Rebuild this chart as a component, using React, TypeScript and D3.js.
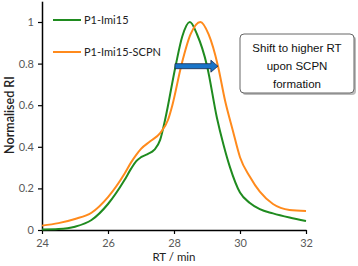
import React, { useEffect, useRef } from "react";
import * as d3 from "d3";

// P1-Imi15 trace
const rtGreen = [24, 24.5, 25, 25.5, 26, 26.5, 26.7, 26.85, 27, 27.2, 27.4, 27.58, 27.73, 28.05, 28.25, 28.48, 28.7, 29.0, 29.3, 29.5, 29.7, 30, 30.3, 30.6, 31, 31.5, 32];
const riGreen = [0.003, 0.005, 0.016, 0.048, 0.125, 0.24, 0.295, 0.33, 0.35, 0.365, 0.385, 0.433, 0.53, 0.79, 0.93, 1.0, 0.94, 0.79, 0.54, 0.41, 0.3, 0.18, 0.13, 0.1, 0.08, 0.06, 0.043];

// P1-Imi15-SCPN trace
const rtOrange = [24, 24.5, 25, 25.5, 26, 26.5, 26.7, 26.85, 27, 27.27, 27.58, 27.82, 27.95, 28.22, 28.5, 28.8, 29.05, 29.33, 29.55, 29.78, 30, 30.3, 30.6, 31, 31.5, 32];
const riOrange = [0.021, 0.033, 0.053, 0.083, 0.158, 0.27, 0.325, 0.36, 0.39, 0.425, 0.466, 0.53, 0.6, 0.79, 0.94, 1.0, 0.94, 0.79, 0.62, 0.48, 0.35, 0.256, 0.184, 0.125, 0.096, 0.091];

const xTicks = [24, 26, 28, 30, 32];
const yTicks = [0, 0.2, 0.4, 0.6, 0.8, 1];
const seriesNames = ["P1-Imi15", "P1-Imi15-SCPN"];
const noteLines = ["Shift to higher RT", "upon SCPN", "formation"];

const width = 358;
const height = 266;

export default function App() {
  const ref = useRef<SVGSVGElement>(null);

  useEffect(() => {
    const svg = d3.select(ref.current);
    svg.selectAll("*").remove();

    const x = d3.scaleLinear().domain([24, 32]).range([42, 306]);
    const y = d3.scaleLinear().domain([0, 1.1]).range([230, 1.2]);

    const gray = "#595959";
    const font = "Lato, 'Open Sans', sans-serif";

    // axes
    const xAxis = svg.append("g")
      .attr("transform", `translate(0, ${y(0)})`)
      .call(d3.axisBottom(x).tickValues(xTicks).tickSize(4).tickSizeOuter(0).tickFormat(d3.format("d")));
    const yAxis = svg.append("g")
      .attr("transform", `translate(${x(24)}, 0)`)
      .call(d3.axisLeft(y).tickValues(yTicks).tickSize(4).tickSizeOuter(0).tickFormat((d) => String(d)));

    [xAxis, yAxis].forEach((g) => {
      g.select(".domain").attr("stroke", "#000").attr("stroke-width", 1.5);
      g.selectAll(".tick line").attr("stroke", "#000").attr("stroke-width", 1.2);
      g.selectAll(".tick text")
        .attr("fill", gray)
        .style("font-family", font)
        .style("font-size", "11px");
    });
    xAxis.selectAll(".tick text").attr("dy", "1em").attr("y", 6);
    yAxis.selectAll(".tick text").attr("x", -8);

    // axis titles
    svg.append("text")
      .attr("transform", `translate(14, 115) rotate(-90)`)
      .attr("text-anchor", "middle")
      .style("font-family", font)
      .style("font-size", "12.5px")
      .style("font-weight", 600)
      .attr("fill", "#222")
      .text("Normalised RI");

    svg.append("text")
      .attr("x", 174)
      .attr("y", 261)
      .attr("text-anchor", "middle")
      .style("font-family", font)
      .style("font-size", "11.5px")
      .attr("fill", "#222")
      .text("RT / min");

    // traces
    const line = d3.line<[number, number]>()
      .x((d) => x(d[0]))
      .y((d) => y(d[1]))
      .curve(d3.curveMonotoneX);

    const series = [
      { name: seriesNames[0], color: "#1f8b1f", pts: rtGreen.map((r, i) => [r, riGreen[i]] as [number, number]) },
      { name: seriesNames[1], color: "#ff8a1c", pts: rtOrange.map((r, i) => [r, riOrange[i]] as [number, number]) },
    ];

    series.forEach((s) => {
      svg.append("path")
        .datum(s.pts)
        .attr("fill", "none")
        .attr("stroke", s.color)
        .attr("stroke-width", 2)
        .attr("d", line);
    });

    // legend
    const legend = svg.append("g");
    series.forEach((s, i) => {
      const ly = 20 + i * 32;
      legend.append("line")
        .attr("x1", 53).attr("x2", 81)
        .attr("y1", ly).attr("y2", ly)
        .attr("stroke", s.color)
        .attr("stroke-width", 2);
      legend.append("text")
        .attr("x", 84)
        .attr("y", ly + 4)
        .style("font-family", font)
        .style("font-size", "11px")
        .attr("fill", "#222")
        .text(s.name);
    });

    // arrow annotation
    const ax0 = x(28.03);
    const ax1 = x(29.33);
    const ay = y(0.79) + 0.5;
    const head = 7;
    svg.append("path")
      .attr("d", `M${ax0},${ay - 2.5} L${ax1 - head},${ay - 2.5} L${ax1 - head},${ay - 6} L${ax1},${ay} L${ax1 - head},${ay + 6} L${ax1 - head},${ay + 2.5} L${ax0},${ay + 2.5} Z`)
      .attr("fill", "#1a75c9")
      .attr("stroke", "#1b2b4a")
      .attr("stroke-width", 0.8);

    // text box
    const bx = 240, by = 34, bw = 114, bh = 59;
    svg.append("rect")
      .attr("x", bx + 2).attr("y", by + 2)
      .attr("width", bw).attr("height", bh)
      .attr("rx", 4)
      .attr("fill", "#bbb");
    svg.append("rect")
      .attr("x", bx).attr("y", by)
      .attr("width", bw).attr("height", bh)
      .attr("rx", 4)
      .attr("fill", "#fff")
      .attr("stroke", "#666")
      .attr("stroke-width", 1);
    noteLines.forEach((t, i) => {
      svg.append("text")
        .attr("x", bx + bw / 2)
        .attr("y", by + 18 + i * 18)
        .attr("text-anchor", "middle")
        .style("font-family", "'Liberation Sans', Arial, sans-serif")
        .style("font-size", "11.5px")
        .attr("fill", "#111")
        .text(t);
    });
  }, []);

  return (
    <svg
      ref={ref}
      width={width}
      height={height}
      style={{ position: "absolute", left: 0, top: 0, background: "#fff" }}
    />
  );
}
